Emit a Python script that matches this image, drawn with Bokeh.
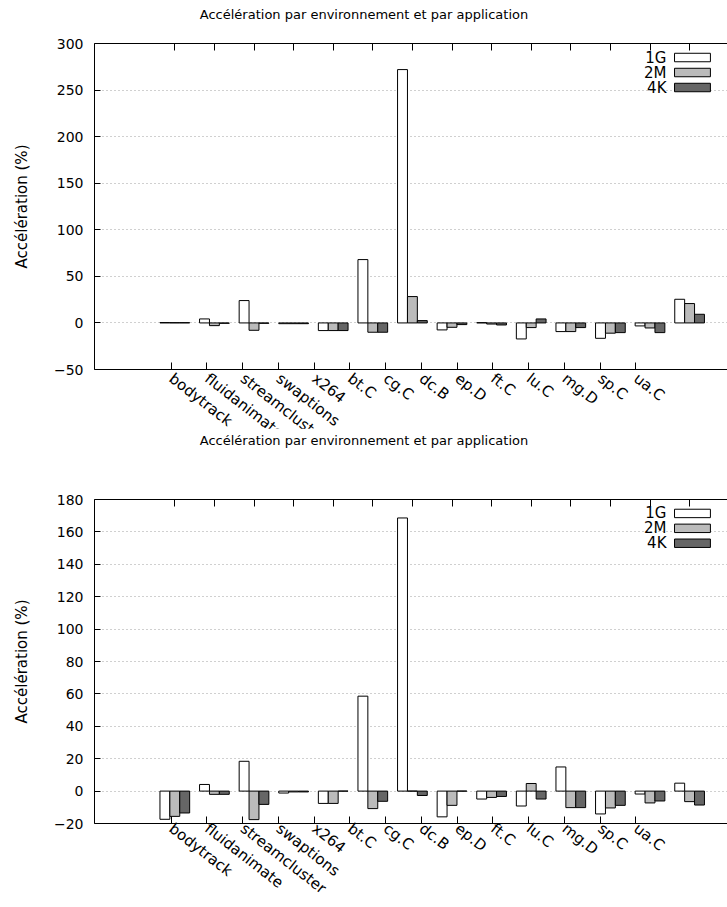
import math
from bokeh.plotting import figure
from bokeh.models import (LinearAxis, FixedTicker, Range1d, Grid, ColumnDataSource)
from bokeh.layouts import column
from bokeh.transform import dodge
from bokeh.core.properties import value
from bokeh.embed import file_html
from bokeh.resources import INLINE

# ---------------- data ----------------
categories = ["bodytrack", "fluidanimate", "streamcluster", "swaptions", "x264",
              "bt.C", "cg.C", "dc.B", "ep.D", "ft.C", "lu.C", "mg.D", "sp.C", "ua.C"]
series = ["1G", "2M", "4K"]
colors = ["#ffffff", "#bbbbbb", "#666666"]

title_text = "Accélération par environnement et par application"
y_label = "Accélération (%)"

# chart 1
top_1G = [0.4, 4.3, 24.0, -0.8, -8.2, 68.0, 272.0, -7.5, 0.3, -17.2, -9.3, -16.5, -3.2, 25.4]
top_2M = [0.3, -2.9, -7.9, -0.8, -8.2, -10.0, 28.3, -4.7, -1.2, -5.0, -9.3, -11.0, -5.4, 20.8]
top_4K = [0.3, -0.4, -0.4, -0.8, -8.2, -10.0, 2.5, -1.8, -2.2, 4.3, -5.0, -10.4, -10.4, 9.3]
top_yticks = [-50, 0, 50, 100, 150, 200, 250, 300]

# chart 2
bot_1G = [-17.4, 4.1, 18.4, -1.2, -7.6, 58.6, 168.6, -15.9, -4.9, -9.2, 14.9, -14.1, -1.8, 4.9]
bot_2M = [-15.6, -2.0, -17.6, -0.5, -7.6, -10.8, 0.0, -8.8, -3.9, 4.7, -10.2, -10.4, -7.3, -6.5]
bot_4K = [-13.5, -2.0, -8.2, -0.5, 0.0, -6.3, -2.7, 0.0, -3.3, -4.9, -10.2, -8.8, -6.1, -8.6]
bot_yticks = [-20, 0, 20, 40, 60, 80, 100, 120, 140, 160, 180]

FONT = "DejaVu Sans"

# layout constants
W = 727
BORDER_LEFT = 94
FRAME_W = W - BORDER_LEFT
X_START, X_END = -2.028, 13.957
TICK_OFFSET, TICK_STEP = -0.092, 0.9025
BAR_W = 0.25


def make_chart(v1, v2, v3, yticks, border_top, frame_h, border_bottom,
               title_standoff, label_standoff):
    height = border_top + frame_h + border_bottom
    p = figure(width=W, height=height,
               x_range=Range1d(X_START, X_END),
               y_range=Range1d(yticks[0], yticks[-1]),
               output_backend="svg", toolbar_location=None,
               x_axis_type=None, y_axis_type=None,
               min_border_left=BORDER_LEFT, min_border_right=0,
               min_border_top=border_top, min_border_bottom=border_bottom)
    p.outline_line_color = None
    p.background_fill_color = "white"
    p.border_fill_color = "white"

    xs, xe = p.x_range.start, p.x_range.end
    ys, ye = p.y_range.start, p.y_range.end
    fx = lambda f: xs + f * (xe - xs)
    fy = lambda f: ye - f * (ye - ys)

    # y axis
    yticker = FixedTicker(ticks=yticks, minor_ticks=[])
    yax = LinearAxis(ticker=yticker, axis_label=y_label)
    yax.axis_label_text_font = FONT
    yax.axis_label_text_font_size = "15px"
    yax.axis_label_text_font_style = "normal"
    yax.axis_label_text_color = "black"
    yax.axis_label_standoff = 20
    yax.major_label_text_font = FONT
    yax.major_label_text_font_size = "14px"
    yax.major_label_text_color = "black"
    yax.major_label_standoff = 11
    yax.major_tick_in = 6
    yax.major_tick_out = 0
    yax.axis_line_color = "black"
    yax.major_tick_line_color = "black"
    p.add_layout(yax, "left")

    # bottom axis with category labels
    n = len(categories)
    xt = [TICK_OFFSET + TICK_STEP * k for k in range(n)]
    xax = LinearAxis(ticker=FixedTicker(ticks=xt, minor_ticks=[]))
    xax.major_label_overrides = {t: c for t, c in zip(xt, categories)}
    xax.major_label_orientation = -math.radians(38)
    xax.major_label_text_font = FONT
    xax.major_label_text_font_size = "15px"
    xax.major_label_text_color = "black"
    xax.major_label_standoff = label_standoff
    xax.major_tick_in = 7
    xax.major_tick_out = 0
    xax.axis_line_color = "black"
    xax.major_tick_line_color = "black"
    p.add_layout(xax, "below")

    # top axis: ticks at group centres, no labels
    tax = LinearAxis(ticker=FixedTicker(ticks=list(range(n)), minor_ticks=[]))
    tax.major_label_text_font_size = "0px"
    tax.major_label_text_color = None
    tax.major_label_standoff = 0
    tax.major_tick_in = 7
    tax.major_tick_out = 0
    tax.axis_line_color = "black"
    tax.major_tick_line_color = "black"
    p.add_layout(tax, "above")

    # title: centred on the page, stacked above the top axis
    xc = fx((W / 2 - BORDER_LEFT) / FRAME_W)
    ttl = LinearAxis(ticker=FixedTicker(ticks=[xc], minor_ticks=[]))
    ttl.major_label_overrides = {xc: title_text}
    ttl.major_label_text_font = FONT
    ttl.major_label_text_font_size = "13px"
    ttl.major_label_text_color = "black"
    ttl.major_label_standoff = title_standoff
    ttl.major_tick_in = 0
    ttl.major_tick_out = 0
    ttl.axis_line_color = None
    ttl.major_tick_line_color = None
    p.add_layout(ttl, "above")

    # grid
    grid = Grid(dimension=1, ticker=yticker)
    grid.grid_line_color = "#a0a0a0"
    grid.grid_line_dash = "1 3"
    grid.grid_line_width = 1
    p.add_layout(grid)

    src = ColumnDataSource(dict(x=list(range(n)), s1=v1, s2=v2, s3=v3))
    for key, off, col in (("s1", -BAR_W, colors[0]), ("s2", 0.0, colors[1]), ("s3", BAR_W, colors[2])):
        p.vbar(x=dodge("x", off, range=p.x_range), top=key, bottom=0, width=BAR_W,
               source=src, fill_color=col, line_color="black", line_width=1)

    # legend (gnuplot style: label then sample box), placed by frame fractions
    rows = [0.043, 0.089, 0.135]
    half = 0.013
    p.quad(left=[fx(0.9163)] * 3, right=[fx(0.973)] * 3,
           top=[fy(r - half) for r in rows], bottom=[fy(r + half) for r in rows],
           fill_color=colors, line_color="black", line_width=1)
    p.text(x=[fx(0.9036)] * 3, y=[fy(r) for r in rows], text=series,
           text_align="right", text_baseline="middle",
           text_font=value(FONT), text_font_size="15px", text_color="black")
    return p


p1 = make_chart(top_1G, top_2M, top_4K, top_yticks, 43, 326, 88, 22, 7)
p2 = make_chart(bot_1G, bot_2M, bot_4K, bot_yticks, 71, 325, 83, 52, 3)
p2.styles = {"margin-top": "-29px"}

layout = column(p1, p2, spacing=0)
open("out.html", "w").write(file_html(layout, INLINE))
